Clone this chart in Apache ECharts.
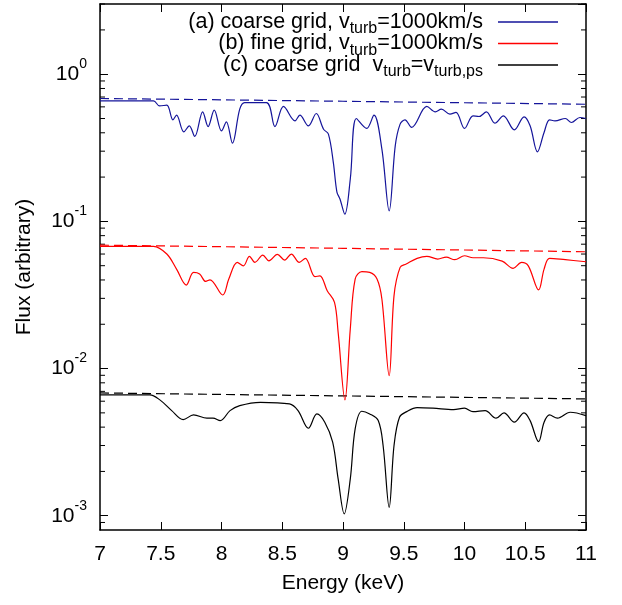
<!DOCTYPE html>
<html>
<head>
<meta charset="utf-8">
<script src="https://cdn.jsdelivr.net/npm/echarts@6/dist/echarts.min.js"></script>
<style>
html, body { margin: 0; padding: 0; background: #fff; }
#chart { width: 622px; height: 605px; }
</style>
</head>
<body>
<div id="chart"></div>
<script>
// energy range (keV) and flux range of the plot
var energyRange = [7, 11];
var fluxRange = [8e-4, 3];
var energyStep = 0.5;

// minor log ticks (2..9 x 10^n) inside the flux range
var minorTicks = [9e-4, 2e-3, 3e-3, 4e-3, 5e-3, 6e-3, 7e-3, 8e-3, 9e-3,
    0.02, 0.03, 0.04, 0.05, 0.06, 0.07, 0.08, 0.09,
    0.2, 0.3, 0.4, 0.5, 0.6, 0.7, 0.8, 0.9, 2, 3];

// (a) coarse grid, vturb = 1000 km/s
var coarseVturb = [[7.0,0.659],[7.44,0.659],[7.49,0.609],[7.55,0.616],[7.6,0.49],[7.63,0.527],[7.69,0.406],
    [7.735,0.446],[7.78,0.378],[7.845,0.555],[7.89,0.441],[7.94,0.57],[8.0,0.412],[8.04,0.475],[8.09,0.34],
    [8.15,0.579],[8.19,0.642],[8.37,0.642],[8.44,0.441],[8.51,0.604],[8.605,0.482],[8.645,0.527],[8.715,0.446],
    [8.78,0.541],[8.84,0.423],[8.88,0.392],[8.92,0.253],[8.95,0.158],[8.975,0.142],[9.015,0.112],[9.06,0.194],
    [9.11,0.5],[9.195,0.428],[9.255,0.527],[9.32,0.31],[9.38,0.118],[9.43,0.326],[9.47,0.458],[9.51,0.49],
    [9.565,0.435],[9.69,0.604],[9.76,0.555],[9.81,0.579],[9.88,0.535],[9.93,0.55],[10.0,0.428],[10.07,0.521],
    [10.12,0.516],[10.18,0.555],[10.25,0.465],[10.32,0.521],[10.41,0.419],[10.49,0.513],[10.54,0.446],
    [10.6,0.297],[10.655,0.402],[10.7,0.49],[10.745,0.482],[10.83,0.5],[10.88,0.47],[10.95,0.508],[11.0,0.5]];

// (b) fine grid, vturb = 1000 km/s
var fineVturb = [[7.0,0.0677],[7.44,0.0677],[7.55,0.060],[7.63,0.0474],[7.71,0.0369],[7.77,0.045],[7.82,0.0439],
    [7.87,0.0391],[7.905,0.0401],[8.01,0.0316],[8.06,0.0406],[8.13,0.0527],[8.18,0.0499],[8.23,0.0579],
    [8.275,0.0527],[8.34,0.059],[8.39,0.054],[8.46,0.0597],[8.52,0.0546],[8.575,0.060],[8.64,0.0527],
    [8.69,0.0561],[8.77,0.0421],[8.81,0.0427],[8.87,0.0338],[8.93,0.0282],[8.96,0.0176],[9.016,0.00612],
    [9.06,0.0186],[9.10,0.0406],[9.155,0.0455],[9.22,0.045],[9.28,0.0406],[9.32,0.0297],[9.38,0.00895],
    [9.42,0.0313],[9.47,0.0487],[9.52,0.0513],[9.61,0.0561],[9.69,0.0579],[9.78,0.0555],[9.85,0.0572],
    [9.92,0.0549],[10.0,0.0584],[10.07,0.0566],[10.155,0.0566],[10.31,0.0537],[10.4,0.048],[10.47,0.0527],
    [10.525,0.0499],[10.61,0.0342],[10.655,0.0474],[10.7,0.0561],[10.83,0.0549],[11.0,0.0532]];

// (c) coarse grid, vturb = vturb,ps
var coarsePs = [[7.0,0.00662],[7.41,0.00662],[7.49,0.00615],[7.59,0.00518],[7.685,0.0045],[7.77,0.00484],
    [7.88,0.0046],[7.93,0.0046],[7.99,0.00443],[8.07,0.00518],[8.15,0.0056],[8.32,0.0059],[8.56,0.00575],
    [8.63,0.00518],[8.715,0.00393],[8.785,0.00492],[8.85,0.00432],[8.915,0.00316],[8.96,0.00178],
    [9.01,0.00103],[9.06,0.00178],[9.10,0.00389],[9.155,0.00513],[9.22,0.00492],[9.29,0.00443],[9.33,0.003],
    [9.38,0.00114],[9.42,0.003],[9.465,0.00467],[9.525,0.0051],[9.61,0.00543],[9.74,0.00538],[9.91,0.00526],
    [10.0,0.00538],[10.07,0.0051],[10.17,0.00518],[10.26,0.0046],[10.325,0.005],[10.41,0.00432],[10.49,0.005],
    [10.54,0.00443],[10.61,0.00319],[10.655,0.00432],[10.7,0.00484],[10.765,0.0046],[10.87,0.00505],[11.0,0.00479]];

// unabsorbed continua (dashed)
var contCoarse = [[7,0.684],[8,0.670],[9,0.655],[10,0.640],[11,0.625]];
var contFine = [[7,0.0690],[8,0.0673],[9,0.0656],[10,0.0639],[11,0.0622]];
var contPs = [[7,0.00683],[8,0.00667],[9,0.00652],[10,0.00637],[11,0.00622]];

var seriesNames = ['a', 'b', 'c'];
var legendLabels = {
    a: '(a) coarse grid, v{sub|turb}=1000km/s',
    b: '(b) fine grid, v{sub|turb}=1000km/s',
    c: '(c) coarse grid  v{sub|turb}=v{sub|turb,ps}'
};

var FONT = '"Liberation Sans", Arial, sans-serif';
var colA = '#14149a', colB = '#ff0000', colC = '#000000';

function expLabel(v) {
    var e = Math.log(v) / Math.LN10;
    var r = Math.round(e);
    if (Math.abs(e - r) > 0.01) return '';
    return '10{sup|' + r + '}';
}

function lineSeries(name, data, color, dashed) {
    return {
        name: name, type: 'line', data: data, symbol: 'none',
        smooth: dashed ? false : 0.35,
        lineStyle: { color: color, width: 1.2, type: dashed ? [9, 5] : 'solid' },
        itemStyle: { color: color },
        silent: true, animation: false
    };
}

var legendTops = [7, 28.5, 50];
var legends = seriesNames.map(function (n, i) {
    return {
        data: [n], orient: 'vertical', right: 64, top: legendTops[i], padding: 0,
        align: 'right', itemWidth: 60, itemHeight: 1.5, icon: 'rect', selectedMode: false,
        formatter: function (name) { return legendLabels[name]; },
        textStyle: {
            fontFamily: FONT, fontSize: 21.5, color: '#000', lineHeight: 30, padding: [0, 10, 0, 0],
            rich: { sub: { fontFamily: FONT, fontSize: 16, lineHeight: 15, verticalAlign: 'bottom', color: '#000' } }
        }
    };
});

var axisLineStyle = { color: '#000', width: 1.5 };

var option = {
    animation: false,
    legend: legends,
    grid: { left: 100, right: 36, top: 4, bottom: 75 },
    xAxis: [{
        type: 'value', min: energyRange[0], max: energyRange[1], interval: energyStep,
        name: 'Energy (keV)', nameLocation: 'middle', nameGap: 43,
        nameTextStyle: { fontFamily: FONT, fontSize: 21, color: '#000' },
        axisLine: { lineStyle: axisLineStyle },
        axisTick: { inside: true, length: 8, lineStyle: { color: '#000' } },
        axisLabel: { fontFamily: FONT, fontSize: 21, color: '#000', margin: 14 },
        splitLine: { show: false }
    }, {
        type: 'value', position: 'top', min: energyRange[0], max: energyRange[1], interval: energyStep,
        axisLine: { lineStyle: axisLineStyle },
        axisTick: { inside: true, length: 8, lineStyle: { color: '#000' } },
        axisLabel: { show: false }, splitLine: { show: false }
    }],
    yAxis: [{
        type: 'log', logBase: 10, min: fluxRange[0], max: fluxRange[1],
        name: 'Flux (arbitrary)', nameLocation: 'middle', nameGap: 65,
        nameTextStyle: { fontFamily: FONT, fontSize: 21, color: '#000' },
        axisLine: { show: true, lineStyle: axisLineStyle },
        axisTick: { inside: true, length: 8, lineStyle: { color: '#000' } },
        axisLabel: {
            fontFamily: FONT, fontSize: 21, color: '#000', margin: 13, lineHeight: 34,
            showMinLabel: false, showMaxLabel: false,
            formatter: expLabel,
            rich: { sup: { fontFamily: FONT, fontSize: 14, lineHeight: 14, verticalAlign: 'top', color: '#000' } }
        },
        splitLine: { show: false }
    }, {
        type: 'log', logBase: 10, min: fluxRange[0], max: fluxRange[1], position: 'right',
        axisLine: { show: true, lineStyle: axisLineStyle },
        axisTick: { inside: true, length: 8, lineStyle: { color: '#000' } },
        axisLabel: { show: false }, splitLine: { show: false }
    }],
    series: [
        lineSeries('a0', contCoarse, colA, true),
        lineSeries('b0', contFine, colB, true),
        lineSeries('c0', contPs, colC, true),
        lineSeries('a', coarseVturb, colA, false),
        lineSeries('b', fineVturb, colB, false),
        lineSeries('c', coarsePs, colC, false),
        {
            type: 'custom', silent: true, clip: false,
            data: minorTicks.map(function (v) { return [energyRange[0], v]; }),
            renderItem: function (params, api) {
                var v = api.value(1);
                var l = api.coord([energyRange[0], v]);
                var r = api.coord([energyRange[1], v]);
                return {
                    type: 'group', children: [
                        { type: 'line', shape: { x1: l[0], y1: l[1], x2: l[0] + 5, y2: l[1] }, style: { stroke: '#000', lineWidth: 1 } },
                        { type: 'line', shape: { x1: r[0] - 5, y1: r[1], x2: r[0], y2: r[1] }, style: { stroke: '#000', lineWidth: 1 } }
                    ]
                };
            }
        }
    ]
};

var myChart = echarts.init(document.getElementById('chart'));
myChart.setOption(option);
</script>
</body>
</html>
